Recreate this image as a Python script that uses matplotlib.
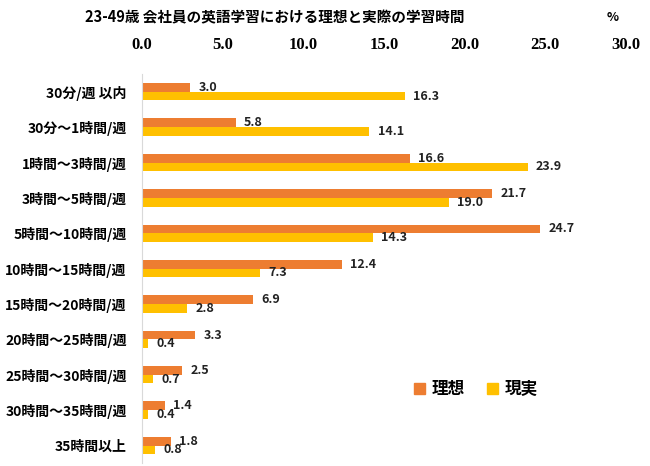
import matplotlib
matplotlib.use("Agg")
import matplotlib.pyplot as plt
import matplotlib.patches as mpatches
import numpy as np

plt.rcParams['font.family'] = ['Noto Sans CJK JP', 'DejaVu Sans']

categories = ["30分/週 以内", "30分～1時間/週", "1時間～3時間/週", "3時間～5時間/週",
              "5時間～10時間/週", "10時間～15時間/週", "15時間～20時間/週",
              "20時間～25時間/週", "25時間～30時間/週", "30時間～35時間/週", "35時間以上"]
ideal = [3.0, 5.8, 16.6, 21.7, 24.7, 12.4, 6.9, 3.3, 2.5, 1.4, 1.8]
actual = [16.3, 14.1, 23.9, 19.0, 14.3, 7.3, 2.8, 0.4, 0.7, 0.4, 0.8]
xticks = [0, 5, 10, 15, 20, 25, 30]

c_ideal = "#ED7D31"
c_actual = "#FFC000"

fig = plt.figure(figsize=(6.5, 4.66), dpi=100)
ax = fig.add_axes([0.2185, 0.006, 0.7445, 0.835])

y = np.arange(len(categories))
h = 0.245
ax.barh(y - h / 2, ideal, height=h, color=c_ideal)
ax.barh(y + h / 2, actual, height=h, color=c_actual)

for yi, v in zip(y, ideal):
    ax.annotate(f"{v:.1f}", (v, yi - h / 2), xytext=(6, 0), textcoords="offset points",
                va="center", ha="left", fontsize=9, fontweight="bold", color="#222222")
for yi, v in zip(y, actual):
    ax.annotate(f"{v:.1f}", (v, yi + h / 2), xytext=(6, 0), textcoords="offset points",
                va="center", ha="left", fontsize=9, fontweight="bold", color="#222222")

ax.set_xlim(0, 30)
ax.set_ylim(len(categories) - 0.5, -0.5)
ax.set_yticks(y)
ax.set_yticklabels(categories, fontsize=10, fontweight="bold")
ax.set_xticks(xticks)
ax.set_xticklabels([f"{t:.1f}" for t in xticks], fontsize=12, fontweight="bold",
                   family=["Liberation Serif", "DejaVu Serif"])
ax.xaxis.tick_top()
ax.tick_params(axis="x", length=0, pad=15)
ax.tick_params(axis="y", length=0, pad=11)

for s in ["top", "right", "bottom"]:
    ax.spines[s].set_visible(False)
ax.spines["left"].set_color("#D9D9D9")
ax.spines["left"].set_linewidth(0.8)

fig.text(0.423, 0.963, "23-49歳 会社員の英語学習における理想と実際の学習時間",
         ha="center", va="center", fontsize=10.5, fontweight="bold")
fig.text(0.942, 0.963, "%", ha="center", va="center", fontsize=9, fontweight="bold")

leg = ax.legend(handles=[mpatches.Patch(color=c_ideal, label="理想"),
                         mpatches.Patch(color=c_actual, label="現実")],
                loc="center", bbox_to_anchor=(0.69, 0.19), ncol=2, frameon=False,
                prop={"size": 12, "weight": "bold"}, handlelength=0.7, handleheight=0.7,
                handletextpad=0.4, columnspacing=1.3)

fig.savefig("out.png", dpi=100)
